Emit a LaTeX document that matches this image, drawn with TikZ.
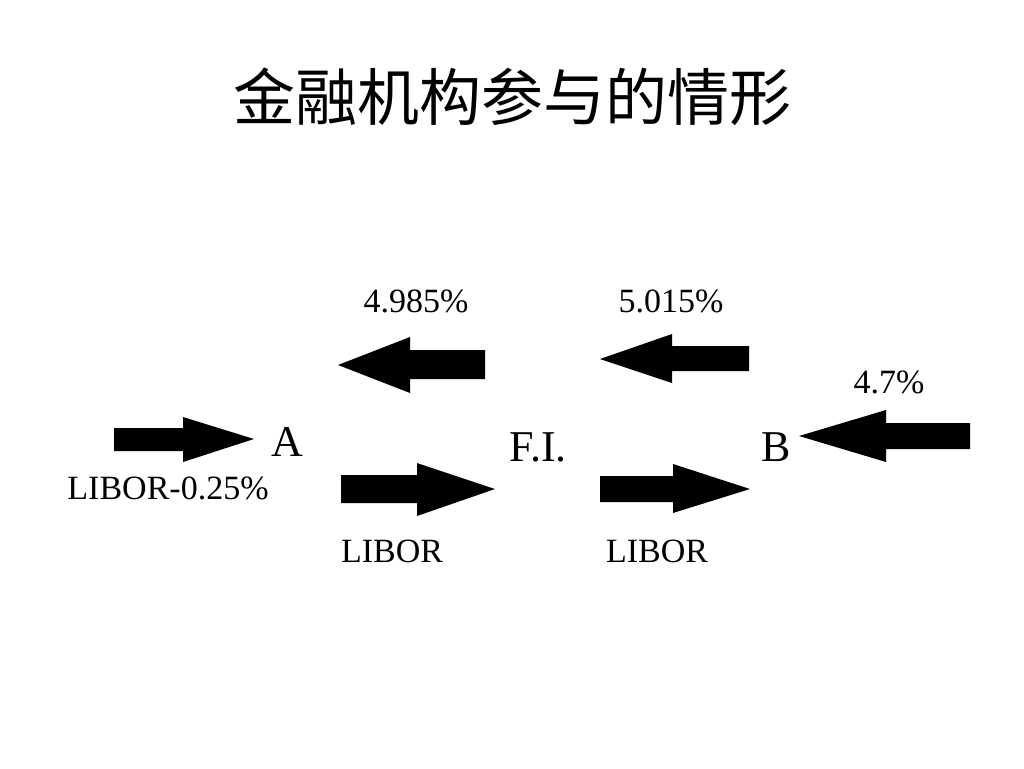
\documentclass[tikz,border=0pt]{standalone}
\usepackage{fontspec}
\setmainfont{Liberation Serif}
\newfontfamily\cjk{Noto Sans CJK SC}
\begin{document}
\begin{tikzpicture}[x=1pt,y=-1pt,
  blk/.style={fill=black},
  lbl/.style={font=\fontsize{34}{37}\selectfont, anchor=base, inner sep=0pt},
  party/.style={font=\fontsize{44}{48}\selectfont, anchor=base, inner sep=0pt}]
\useasboundingbox[fill=white] (0,0) rectangle (1024,768);
% title
\node[font=\cjk\fontsize{62}{66}\selectfont, inner sep=0pt] (title) at (512,97) {金融机构参与的情形};
% parties
\node[party] (A) at (287,456) {A};
\node[party] (FI) at (538,461) {F.I.};
\node[party] (B) at (776,461) {B};
% arrows
\fill[blk] (114,428) -- (183,428) -- (183,417) -- (254,439) -- (183,462) -- (183,451) -- (114,451) -- cycle;
\fill[blk] (338,365) -- (410,337) -- (410,350) -- (485,350) -- (485,379) -- (410,379) -- (410,393) -- cycle;
\fill[blk] (600,359) -- (672,334) -- (672,346) -- (749,346) -- (749,371) -- (672,371) -- (672,383) -- cycle;
\fill[blk] (799,436) -- (886,410) -- (886,423) -- (970,423) -- (970,449) -- (886,449) -- (886,462) -- cycle;
\fill[blk] (341,475) -- (417,475) -- (417,463) -- (495,489) -- (417,516) -- (417,503) -- (341,503) -- cycle;
\fill[blk] (600,476) -- (673,476) -- (673,464) -- (750,489) -- (673,513) -- (673,502) -- (600,502) -- cycle;
% labels
\node[lbl] (l1) at (168,499) {LIBOR-0.25\%};
\node[lbl] (l2) at (416,312) {4.985\%};
\node[lbl] (l3) at (671,312) {5.015\%};
\node[lbl] (l4) at (889,393) {4.7\%};
\node[lbl] (l5) at (392,562) {LIBOR};
\node[lbl] (l6) at (657,562) {LIBOR};
\end{tikzpicture}
\end{document}
